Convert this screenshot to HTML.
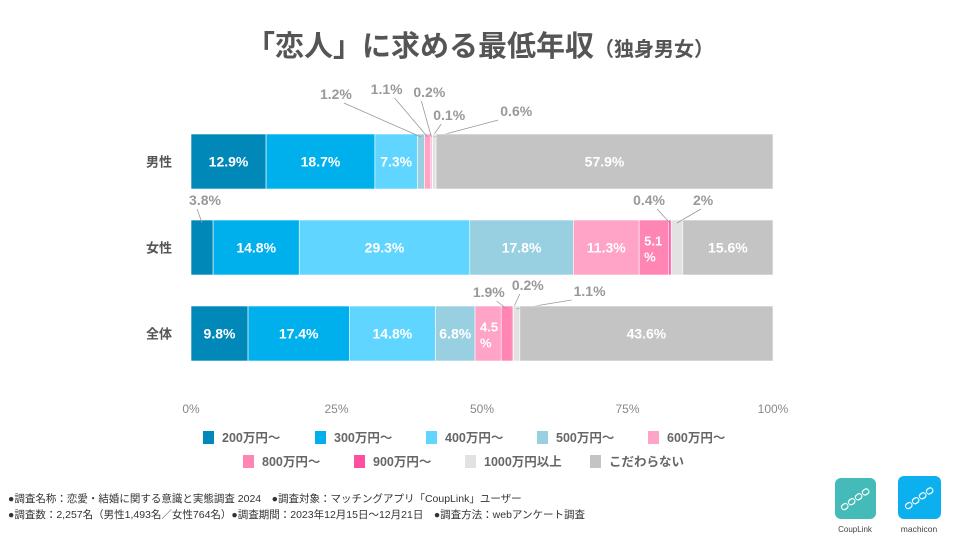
<!DOCTYPE html>
<html><head><meta charset="utf-8">
<style>
body{margin:0;width:960px;height:540px;background:#fff;overflow:hidden;font-family:"Liberation Sans","Noto Sans CJK JP",sans-serif;}
svg text{font-family:"Liberation Sans","Noto Sans CJK JP",sans-serif;}
</style></head>
<body>
<svg id="chart" width="960" height="540" viewBox="0 0 960 540">
<text x="480" y="56" text-anchor="middle" font-size="29" font-weight="bold" fill="#555">「恋人」に求める最低年収<tspan font-size="20">（独身男女）</tspan></text>
<g id="plot"></g>
<g id="legend"></g>
<text x="8" y="502" font-size="10.5" fill="#333">●調査名称：恋愛・結婚に関する意識と実態調査 2024　●調査対象：マッチングアプリ「CoupLink」ユーザー</text>
<text x="8" y="518" font-size="10.5" fill="#333">●調査数：2,257名（男性1,493名／女性764名）●調査期間：2023年12月15日～12月21日　●調査方法：webアンケート調査</text>
<g>
<rect x="835" y="478" width="41" height="41" rx="6" fill="#44bbb8"/>
<text x="855" y="503" text-anchor="middle" font-size="14" fill="#fff" transform="rotate(-35 855 499)">ᴑᴑᴑᴑ</text>
<text x="855" y="532" text-anchor="middle" font-size="8" fill="#444">CoupLink</text>
</g>
<g>
<rect x="898" y="476" width="43" height="43" rx="6" fill="#0db0ee"/>
<text x="919" y="502" text-anchor="middle" font-size="14" fill="#fff" transform="rotate(-35 919 498)">ᴑᴑᴑᴑ</text>
<text x="919" y="532" text-anchor="middle" font-size="8.5" fill="#444">machicon</text>
</g>
</svg>
<script>
const categories=["男性","女性","全体"];
const seriesNames=["200万円～","300万円～","400万円～","500万円～","600万円～","800万円～","900万円～","1000万円以上","こだわらない"];
const maleValues=[12.9,18.7,7.3,1.2,1.1,0.2,0.1,0.6,57.9];
const femaleValues=[3.8,14.8,29.3,17.8,11.3,5.1,0.4,2,15.6];
const totalValues=[9.8,17.4,14.8,6.8,4.5,1.9,0.2,1.1,43.6];
const tickValues=[0,25,50,75,100];
const colors=["#0088b8","#00b0ec","#5fd5ff","#98d0e2","#ffa3c7","#ff85b5","#ff4fa0","#e2e2e2","#c4c4c4"];
const data=[maleValues,femaleValues,totalValues];
const NS="http://www.w3.org/2000/svg";
const X0=191,X1=773;
const xs=v=>X0+(X1-X0)*v/100;
const barTop=[134,220,306],barH=55;
const plot=document.getElementById('plot');
function mk(tag,attrs,parent){const e=document.createElementNS(NS,tag);for(const k in attrs)e.setAttribute(k,attrs[k]);(parent||plot).appendChild(e);return e;}
tickValues.forEach(t=>{
 const e=mk('text',{x:xs(t),y:413,'text-anchor':'middle','font-size':12,fill:'#888'});
 
 
 e.textContent=t+'%';
});
// callout offsets [dx,dy,anchor] relative to segment middle / bar top
const callouts={
 0:{3:[-69,-35,'end'],4:[-25,-40,'end'],5:[-18,-37,'start'],6:[1,-14,'start'],7:[66,-18,'start']},
 1:{0:[-13,-15,'start'],6:[-5,-15,'end'],7:[16,-15,'start']},
 2:{5:[-2,-9,'end'],6:[-1,-16,'start'],7:[57,-10,'start']}
};
data.forEach((vals,bi)=>{
 const y=barTop[bi];
 const c=mk('text',{x:172,y:y+barH/2+5,'text-anchor':'end','font-size':13,'font-weight':'bold',fill:'#555'});
 
 
 c.textContent=categories[bi];
 let cum=0;
 vals.forEach((v,si)=>{
  const xa=xs(cum),xb=xs(Math.min(100,cum+v));cum+=v;
  const r=mk('rect',{x:xa,y:y,width:Math.max(0,xb-xa),height:barH,fill:colors[si],stroke:'#fff','stroke-width':0.6});
  
  
  const w=xb-xa,mid=(xa+xb)/2;
  const co=callouts[bi]&&callouts[bi][si];
  if(co){
   const lx=mid+co[0],ly=y+co[1];
   let ex=co[2]==='end'?lx-8:lx+8; if(co[0]>30)ex=lx-2;
   const ln=mk('line',{x1:mid,y1:y+3,x2:ex,y2:ly+4,stroke:'#999','stroke-width':0.8});
   
   
   const t=mk('text',{x:lx,y:ly,'text-anchor':co[2],'font-size':14,'font-weight':'bold',fill:'#999'});
   
   
   t.textContent=v+'%';
  }else if(w>20){
   if(w<38){
    const t1=mk('text',{x:xa+5,y:y+barH/2-2,'font-size':13,'font-weight':'bold',fill:'#fff'});
    
    
    t1.textContent=v;
    const t2=mk('text',{x:xa+5,y:y+barH/2+14,'font-size':13,'font-weight':'bold',fill:'#fff'});
    
    
    t2.textContent='%';
   }else{
    const t=mk('text',{x:mid,y:y+barH/2+5,'text-anchor':'middle','font-size':14,'font-weight':'bold',fill:'#fff'});
    
    
    t.textContent=v+'%';
   }
  }
 });
});
const leg=document.getElementById('legend');
const rows=[[0,1,2,3,4],[5,6,7,8]];
const rowX=[[203,315,426,537,648],[243,354,465,590]];
rows.forEach((r,ri)=>r.forEach((si,k)=>{
 const x=rowX[ri][k],y=ri?455:431;
 const g=mk('g',{},leg);
 
 
 mk('rect',{x:x,y:y,width:11,height:13,fill:colors[si]},g);
 const t=mk('text',{x:x+19,y:y+11,'font-size':12.5,'font-weight':'bold',fill:'#666'},g);
 t.textContent=seriesNames[si];
}));
</script>
</body></html>
